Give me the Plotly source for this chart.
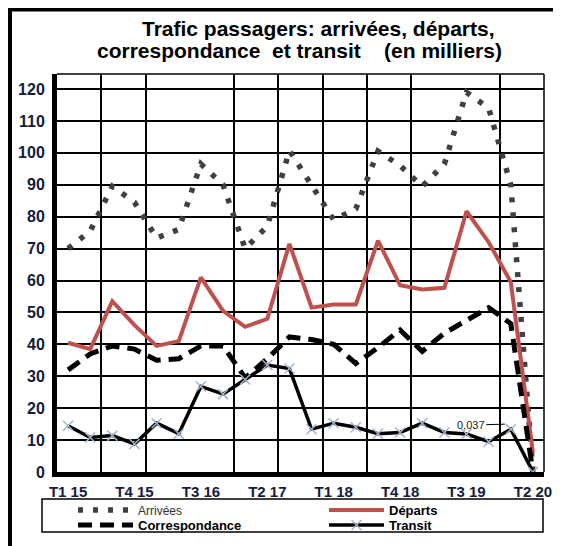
import plotly.graph_objects as go

# trimestres T1 2015 -> T2 2020
quarters = ['T1 15', 'T2 15', 'T3 15', 'T4 15',
            'T1 16', 'T2 16', 'T3 16', 'T4 16',
            'T1 17', 'T2 17', 'T3 17', 'T4 17',
            'T1 18', 'T2 18', 'T3 18', 'T4 18',
            'T1 19', 'T2 19', 'T3 19', 'T4 19',
            'T1 20', 'T2 20']

arrivees = [70, 75.5, 89.5, 84.5, 73.3, 76, 96.5, 90,
            70, 77, 100.7, 90, 79, 82.5, 100.5, 96,
            89.5, 96.5, 119, 114, 90, 0]
departs = [40.5, 38.5, 53.5, 46, 39.5, 41, 61, 50.5,
           45.5, 48, 71.5, 51.5, 52.5, 52.5, 72.5, 58.5,
           57.2, 57.7, 81.7, 72, 59.5, 6]
correspondance = [32, 37, 39.5, 38.5, 35, 35.5, 39.5, 39.5,
                  29.5, 35.5, 42.3, 41.5, 40, 34, 39, 44.5,
                  37.8, 43.5, 47.5, 51.5, 46.5, 0]
transit = [14.5, 10.8, 11.4, 8.8, 15.3, 12, 26.8, 24.4,
           29, 33.5, 32.4, 13.4, 15.3, 14, 12, 12.4,
           15.3, 12.4, 11.9, 9.5, 13.4, 0.037]

x = list(range(len(quarters)))
tick_idx = x[::3]
tick_txt = quarters[::3]
y_ticks = list(range(0, 121, 10))
grid_x = [1.5, 3.5, 7.5, 9.5, 11.5, 13.5, 15.5, 19.5]

# la page html ajoute 8px de marge autour de la figure
OFF = 8
W, H = 561 - OFF, 546 - OFF
L, T = 57 - OFF, 74 - OFF
R, B = W - (544 - OFF), H - (472 - OFF)
pw, ph = W - L - R, H - T - B


def px(v):
    # position écran -> coordonnée paper (x)
    return (v - OFF - L) / pw


def py(v):
    # position écran -> coordonnée paper (y)
    return (H - B - (v - OFF)) / ph


FONT = 'Arial, Liberation Sans, sans-serif'
NAVY = '#141c3c'
NB = '\u00a0'

fig = go.Figure()
fig.add_trace(go.Scatter(
    x=x, y=arrivees, mode='lines', legend='legend',
    name="<span style='font-weight:normal;font-size:12px;color:#333'>Arrivées</span>",
    line=dict(color='#404040', width=5.5, dash='5px,10px')
))
fig.add_trace(go.Scatter(
    x=x, y=departs, mode='lines', name='<b>Départs</b>', legend='legend2',
    line=dict(color='#c0504d', width=4)
))
fig.add_trace(go.Scatter(
    x=x, y=correspondance, mode='lines', name='<b>Correspondance</b>',
    legend='legend3',
    line=dict(color='black', width=5, dash='14px,8px')
))
fig.add_trace(go.Scatter(
    x=x, y=transit, mode='lines+markers', name='<b>Transit</b>',
    legend='legend4',
    line=dict(color='black', width=3.5),
    marker=dict(symbol='x-thin', size=10,
                line=dict(color='#9fb4d0', width=1.5))
))

fig.add_annotation(
    x=19.73, y=15, xref='x', yref='y', text='0,037',
    showarrow=True, arrowhead=0, arrowwidth=1, arrowcolor='black',
    ax=-34, ay=1, standoff=0,
    font=dict(family=FONT, size=11, color='#222')
)

# titre (deux lignes)
fig.add_annotation(x=px(318), y=py(28.5), xref='paper', yref='paper',
                   xanchor='center', yanchor='middle',
                   text='<b>Trafic passagers: arrivées, départs,</b>',
                   showarrow=False, font=dict(family=FONT, size=21, color='black'))
fig.add_annotation(x=px(299), y=py(50.5), xref='paper', yref='paper',
                   xanchor='center', yanchor='middle',
                   text='<b>correspondance' + NB * 2 + 'et transit' + NB * 3 + ' (en milliers)</b>',
                   showarrow=False, font=dict(family=FONT, size=21, color='black'))

shapes = [
    # cadre extérieur
    dict(type='line', xref='paper', yref='paper', x0=px(10), x1=px(10),
         y0=py(560), y1=py(9.5), line=dict(color='black', width=4)),
    dict(type='line', xref='paper', yref='paper', x0=px(8), x1=px(570),
         y0=py(9.5), y1=py(9.5), line=dict(color='black', width=4)),
    # bordure zone de tracé
    dict(type='line', xref='paper', yref='paper', x0=1, x1=1, y0=0, y1=1,
         line=dict(color='black', width=1.5)),
    dict(type='line', xref='paper', yref='paper', x0=0, x1=1, y0=1, y1=1,
         line=dict(color='black', width=1.5)),
    # cadre de la légende
    dict(type='rect', xref='paper', yref='paper', x0=px(42), x1=px(543),
         y0=py(532), y1=py(499), line=dict(color='black', width=1.5),
         fillcolor='white', layer='below'),
]

leg_common = dict(
    orientation='h', xanchor='left', yanchor='top', itemwidth=55,
    font=dict(family=FONT, size=13, color='black'),
    bgcolor='rgba(0,0,0,0)', borderwidth=0, tracegroupgap=0
)

fig.update_layout(
    width=W, height=H, autosize=False,
    margin=dict(l=L, r=R, t=T, b=B, autoexpand=False),
    paper_bgcolor='white', plot_bgcolor='white',
    font=dict(family=FONT, color='black'),
    shapes=shapes,
    showlegend=True,
    legend=dict(x=px(73), y=py(495), **leg_common),
    legend2=dict(x=px(324), y=py(495), **leg_common),
    legend3=dict(x=px(73), y=py(510), **leg_common),
    legend4=dict(x=px(324), y=py(510), **leg_common),
    xaxis=dict(
        range=[-0.5, 21.5], tickmode='array', tickvals=tick_idx, ticktext=tick_txt,
        showgrid=False, zeroline=False, showline=True, linecolor='black', linewidth=5,
        ticks='', ticklabelstandoff=2,
        tickfont=dict(family=FONT, size=15, color=NAVY, weight='bold'),
        minor=dict(tickmode='array', tickvals=grid_x, showgrid=True,
                   gridcolor='black', gridwidth=1.5, ticks='')
    ),
    yaxis=dict(
        range=[0, 124.7], tickmode='array', tickvals=y_ticks,
        showgrid=True, gridcolor='black', gridwidth=1.5, zeroline=False,
        showline=True, linecolor='black', linewidth=5,
        ticks='', ticklabelstandoff=4,
        tickfont=dict(family=FONT, size=16, color=NAVY, weight='bold')
    )
)

fig.write_html('out.html')
